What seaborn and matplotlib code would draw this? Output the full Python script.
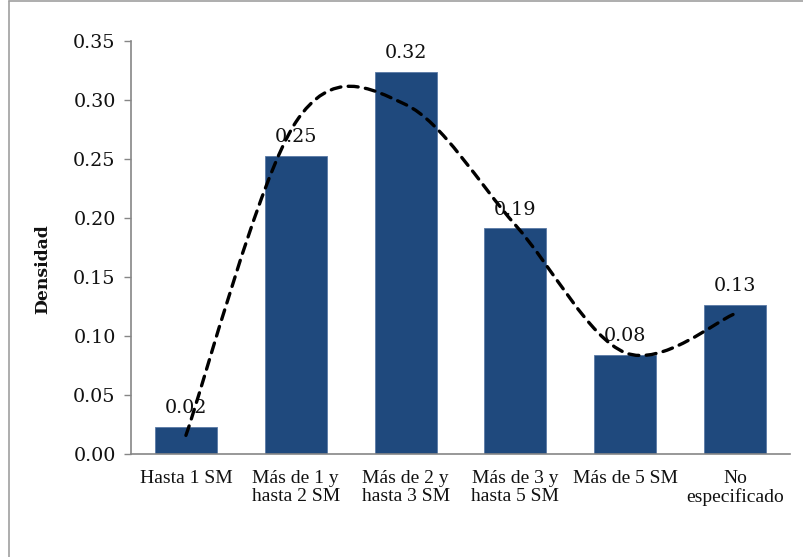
import matplotlib
matplotlib.use("Agg")
import matplotlib.pyplot as plt
from matplotlib.path import Path
from matplotlib.patches import PathPatch
from matplotlib.lines import Line2D
import seaborn as sns
import pandas as pd
import numpy as np

# Income brackets and their densities
categorias = ["Hasta 1 SM", "Más de 1 y\nhasta 2 SM", "Más de 2 y\nhasta 3 SM",
              "Más de 3 y\nhasta 5 SM", "Más de 5 SM", "No\nespecificado"]
densidad = [0.0234, 0.2524, 0.3238, 0.1913, 0.0843, 0.1263]
# Smoothed trend series drawn over the bars
tendencia = [0.016, 0.281, 0.296, 0.194, 0.086, 0.119]
yticks = [0.00, 0.05, 0.10, 0.15, 0.20, 0.25, 0.30, 0.35]

BAR = "#1f497d"
GRAY = "#868686"

sns.set_theme(style="white")
plt.rcParams["font.family"] = ["DejaVu Serif"]

fig = plt.figure(figsize=(8.04, 5.57), dpi=100)
ax = fig.add_axes([131 / 804, 1 - 454.3 / 557, (790 - 131) / 804, (454.3 - 40.7) / 557])

df = pd.DataFrame({"cat": categorias, "val": densidad})
sns.barplot(data=df, x="cat", y="val", color=BAR, width=0.565, saturation=1,
            edgecolor="#5a7aa6", linewidth=0.6, ax=ax)

# value labels
for i, v in enumerate(densidad):
    ax.annotate(f"{v:.2f}", (i, v), xytext=(0, 7), textcoords="offset points",
                ha="center", va="bottom", fontsize=13.8, color="#111111",
                family="DejaVu Serif", zorder=2)

# smoothed dashed trend line (Catmull-Rom style Bezier segments)
pts = np.column_stack([np.arange(len(tendencia)), tendencia])
verts = [tuple(pts[0])]
codes = [Path.MOVETO]
n = len(pts)
for i in range(n - 1):
    p0 = pts[max(i - 1, 0)]
    p1 = pts[i]
    p2 = pts[i + 1]
    p3 = pts[min(i + 2, n - 1)]
    c1 = p1 + (p2 - p0) / 6.0
    c2 = p2 - (p3 - p1) / 6.0
    verts += [tuple(c1), tuple(c2), tuple(p2)]
    codes += [Path.CURVE4] * 3
patch = PathPatch(Path(verts, codes), fill=False, edgecolor="black", linewidth=2.4,
                  linestyle=(0, (3.0, 2.2)), capstyle="round", zorder=3)
ax.add_patch(patch)

ax.set_xlim(-0.5, len(categorias) - 0.5)
ax.set_ylim(0, 0.35)
ax.set_yticks(yticks)
ax.set_yticklabels([f"{t:.2f}" for t in yticks], fontsize=13.8, color="#111111")
ax.set_xticks(range(len(categorias)))
ax.set_xticklabels(categorias, fontsize=14, family="Liberation Serif",
                   color="#111111", linespacing=1.12)
ax.set_xticks(np.arange(-0.5, len(categorias), 1.0), minor=True)
ax.tick_params(axis="x", which="major", length=0, pad=11)
ax.tick_params(axis="x", which="minor", length=5, width=1, color=GRAY, direction="out")
ax.tick_params(axis="y", which="major", length=5, width=1, color=GRAY, direction="out",
               left=True, pad=6)
ax.set_xlabel("")
ax.set_ylabel("")

for s in ["top", "right"]:
    ax.spines[s].set_visible(False)
for s in ["left", "bottom"]:
    ax.spines[s].set_color(GRAY)
    ax.spines[s].set_linewidth(1.2)

fig.text(42.5 / 804, 1 - 269 / 557, "Densidad", rotation=90, ha="center", va="center",
         fontsize=12.3, fontweight="bold", family="DejaVu Serif", color="#111111")

# chart area frame
fig.add_artist(Line2D([8.5 / 804, 8.5 / 804], [0, 1 - 1 / 557], color="#a0a0a0", lw=1.2,
                      transform=fig.transFigure))
fig.add_artist(Line2D([8.5 / 804, 1], [1 - 1 / 557, 1 - 1 / 557], color="#a0a0a0", lw=1.2,
                      transform=fig.transFigure))

fig.savefig("out.png", dpi=100, facecolor="white")
